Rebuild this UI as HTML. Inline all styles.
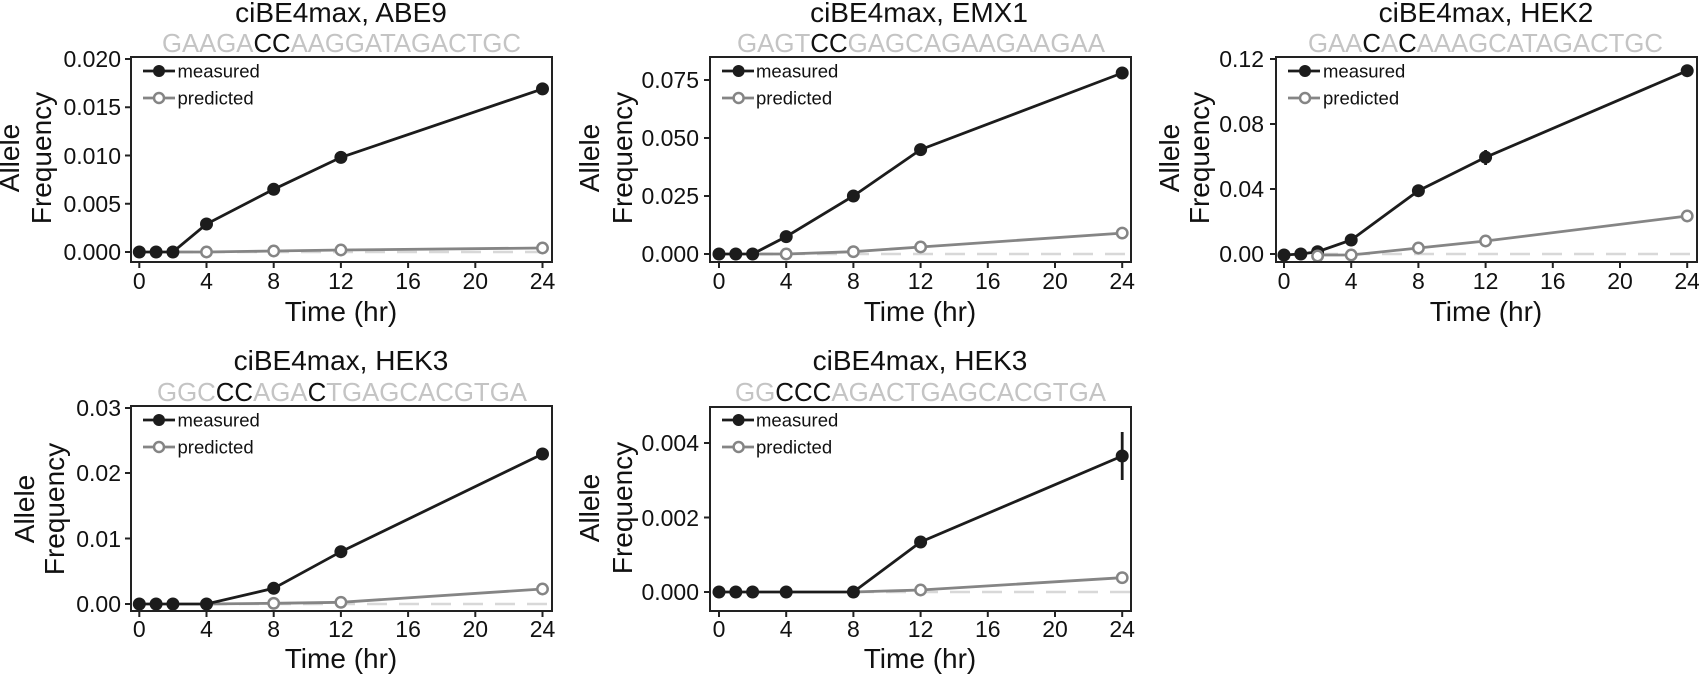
<!DOCTYPE html>
<html><head><meta charset="utf-8"><style>
html,body{margin:0;padding:0;background:#fff;}
svg{display:block;font-family:"Liberation Sans",Arial,sans-serif;}
.ax{fill:none;stroke:#222;stroke-width:2;}
.tk{stroke:#222;stroke-width:2;}
.tl{font-size:23px;fill:#111;}
.ti{font-size:28px;fill:#111;text-anchor:middle;}
.sq{font-size:26px;fill:#c4c4c4;}
.sq tspan.b{fill:#111;}
.lg{font-size:18.5px;fill:#111;}
.al{font-size:28px;fill:#111;text-anchor:middle;}
.m{stroke:#1c1c1c;stroke-width:2.8;fill:none;}
.p{stroke:#858585;stroke-width:2.8;fill:none;}
.d{stroke:#d8d8d8;stroke-width:2.5;stroke-dasharray:20 12;fill:none;}
.mf{fill:#1c1c1c;}
.po{fill:#fff;stroke:#858585;stroke-width:2.5;}
</style></head><body>
<svg width="1699" height="675" viewBox="0 0 1699 675" xmlns="http://www.w3.org/2000/svg">

<!-- ============ PANEL 1 ============ -->
<text class="ti" x="341" y="22">ciBE4max, ABE9</text>
<text class="sq" x="162" y="52" textLength="359" lengthAdjust="spacingAndGlyphs">GAAGA<tspan class="b">CC</tspan>AAGGATAGACTGC</text>
<line class="d" x1="173" y1="252" x2="551" y2="252"/>
<polyline class="p" points="172.9,252 206.5,252 273.7,251 340.9,250 542.5,248"/>
<polyline class="m" points="139.3,252 156.1,252 172.9,252 206.5,224 273.7,189.3 340.9,157.4 542.5,88.9"/>
<line class="m" x1="542.5" y1="84" x2="542.5" y2="94"/>
<g class="mf"><circle cx="139.3" cy="252" r="6.5"/><circle cx="156.1" cy="252" r="6.5"/><circle cx="172.9" cy="252" r="6.5"/><circle cx="206.5" cy="224" r="6.5"/><circle cx="273.7" cy="189.3" r="6.5"/><circle cx="340.9" cy="157.4" r="6.5"/><circle cx="542.5" cy="88.9" r="6.5"/></g>
<g class="po"><circle cx="206.5" cy="252" r="5.2"/><circle cx="273.7" cy="251" r="5.2"/><circle cx="340.9" cy="250" r="5.2"/><circle cx="542.5" cy="248" r="5.2"/></g>
<rect class="ax" x="131" y="57" width="421" height="205"/>
<g class="tk"><line x1="125" y1="252" x2="131" y2="252"/><line x1="125" y1="203.75" x2="131" y2="203.75"/><line x1="125" y1="155.5" x2="131" y2="155.5"/><line x1="125" y1="107.25" x2="131" y2="107.25"/><line x1="125" y1="59" x2="131" y2="59"/>
<line x1="139.3" y1="262" x2="139.3" y2="268"/><line x1="206.5" y1="262" x2="206.5" y2="268"/><line x1="273.7" y1="262" x2="273.7" y2="268"/><line x1="340.9" y1="262" x2="340.9" y2="268"/><line x1="408.1" y1="262" x2="408.1" y2="268"/><line x1="475.3" y1="262" x2="475.3" y2="268"/><line x1="542.5" y1="262" x2="542.5" y2="268"/></g>
<g class="tl" text-anchor="end"><text x="121" y="260">0.000</text><text x="121" y="212">0.005</text><text x="121" y="164">0.010</text><text x="121" y="115">0.015</text><text x="121" y="67">0.020</text></g>
<g class="tl" text-anchor="middle"><text x="139.3" y="289">0</text><text x="206.5" y="289">4</text><text x="273.7" y="289">8</text><text x="340.9" y="289">12</text><text x="408.1" y="289">16</text><text x="475.3" y="289">20</text><text x="542.5" y="289">24</text></g>
<text class="al" x="341" y="321">Time (hr)</text>
<text class="al" transform="translate(19,158) rotate(-90)">Allele</text>
<text class="al" transform="translate(51,158) rotate(-90)">Frequency</text>
<line class="m" x1="143" y1="71" x2="175" y2="71"/><circle class="mf" cx="159" cy="71" r="6"/>
<line class="p" x1="143" y1="98" x2="175" y2="98"/><circle class="po" cx="159" cy="98" r="5"/>
<text class="lg" x="177.5" y="77.5">measured</text><text class="lg" x="177.5" y="104.5">predicted</text>

<!-- ============ PANEL 2 ============ -->
<text class="ti" x="919" y="22">ciBE4max, EMX1</text>
<text class="sq" x="737" y="52" textLength="368" lengthAdjust="spacingAndGlyphs">GAGT<tspan class="b">CC</tspan>GAGCAGAAGAAGAA</text>
<line class="d" x1="753" y1="254" x2="1130" y2="254"/>
<polyline class="p" points="752.6,254 786.2,254 853.4,251.7 920.6,247 1122.2,233.1"/>
<polyline class="m" points="719,254 735.8,254 752.6,254 786.2,236.6 853.4,196 920.6,149.6 1122.2,73"/>
<g class="mf"><circle cx="719" cy="254" r="6.5"/><circle cx="735.8" cy="254" r="6.5"/><circle cx="752.6" cy="254" r="6.5"/><circle cx="786.2" cy="236.6" r="6.5"/><circle cx="853.4" cy="196" r="6.5"/><circle cx="920.6" cy="149.6" r="6.5"/><circle cx="1122.2" cy="73" r="6.5"/></g>
<g class="po"><circle cx="786.2" cy="254" r="5.2"/><circle cx="853.4" cy="251.7" r="5.2"/><circle cx="920.6" cy="247" r="5.2"/><circle cx="1122.2" cy="233.1" r="5.2"/></g>
<rect class="ax" x="710" y="57" width="421" height="205"/>
<g class="tk"><line x1="704" y1="254" x2="710" y2="254"/><line x1="704" y1="196" x2="710" y2="196"/><line x1="704" y1="138" x2="710" y2="138"/><line x1="704" y1="80" x2="710" y2="80"/>
<line x1="719" y1="262" x2="719" y2="268"/><line x1="786.2" y1="262" x2="786.2" y2="268"/><line x1="853.4" y1="262" x2="853.4" y2="268"/><line x1="920.6" y1="262" x2="920.6" y2="268"/><line x1="987.8" y1="262" x2="987.8" y2="268"/><line x1="1055" y1="262" x2="1055" y2="268"/><line x1="1122.2" y1="262" x2="1122.2" y2="268"/></g>
<g class="tl" text-anchor="end"><text x="699" y="262">0.000</text><text x="699" y="204">0.025</text><text x="699" y="146">0.050</text><text x="699" y="88">0.075</text></g>
<g class="tl" text-anchor="middle"><text x="719" y="289">0</text><text x="786.2" y="289">4</text><text x="853.4" y="289">8</text><text x="920.6" y="289">12</text><text x="987.8" y="289">16</text><text x="1055" y="289">20</text><text x="1122.2" y="289">24</text></g>
<text class="al" x="920" y="321">Time (hr)</text>
<text class="al" transform="translate(599,158) rotate(-90)">Allele</text>
<text class="al" transform="translate(632,158) rotate(-90)">Frequency</text>
<line class="m" x1="722" y1="71" x2="754" y2="71"/><circle class="mf" cx="738.6" cy="71" r="6"/>
<line class="p" x1="722" y1="98" x2="754" y2="98"/><circle class="po" cx="738.6" cy="98" r="5"/>
<text class="lg" x="756" y="77.5">measured</text><text class="lg" x="756" y="104.5">predicted</text>

<!-- ============ PANEL 3 ============ -->
<text class="ti" x="1486" y="22">ciBE4max, HEK2</text>
<text class="sq" x="1308" y="52" textLength="355" lengthAdjust="spacingAndGlyphs">GAA<tspan class="b">C</tspan>A<tspan class="b">C</tspan>AAAGCATAGACTGC</text>
<line class="d" x1="1318" y1="254" x2="1696" y2="254"/>
<polyline class="p" points="1317.6,255 1351.2,255 1418.4,248 1485.6,241 1687.2,216"/>
<polyline class="m" points="1284,255 1300.8,254 1317.6,251.7 1351.2,240 1418.4,190.7 1485.6,157.3 1687.2,70.7"/>
<line class="m" x1="1485.6" y1="150" x2="1485.6" y2="165"/>
<g class="mf"><circle cx="1284" cy="255" r="6.5"/><circle cx="1300.8" cy="254" r="6.5"/><circle cx="1317.6" cy="251.7" r="6.5"/><circle cx="1351.2" cy="240" r="6.5"/><circle cx="1418.4" cy="190.7" r="6.5"/><circle cx="1485.6" cy="157.3" r="6.5"/><circle cx="1687.2" cy="70.7" r="6.5"/></g>
<g class="po"><circle cx="1317.6" cy="256" r="5.2"/><circle cx="1351.2" cy="255" r="5.2"/><circle cx="1418.4" cy="248" r="5.2"/><circle cx="1485.6" cy="241" r="5.2"/><circle cx="1687.2" cy="216" r="5.2"/></g>
<rect class="ax" x="1276" y="57" width="421" height="205"/>
<g class="tk"><line x1="1270" y1="254" x2="1276" y2="254"/><line x1="1270" y1="189" x2="1276" y2="189"/><line x1="1270" y1="124" x2="1276" y2="124"/><line x1="1270" y1="59" x2="1276" y2="59"/>
<line x1="1284" y1="262" x2="1284" y2="268"/><line x1="1351.2" y1="262" x2="1351.2" y2="268"/><line x1="1418.4" y1="262" x2="1418.4" y2="268"/><line x1="1485.6" y1="262" x2="1485.6" y2="268"/><line x1="1552.8" y1="262" x2="1552.8" y2="268"/><line x1="1620" y1="262" x2="1620" y2="268"/><line x1="1687.2" y1="262" x2="1687.2" y2="268"/></g>
<g class="tl" text-anchor="end"><text x="1264" y="262">0.00</text><text x="1264" y="197">0.04</text><text x="1264" y="132">0.08</text><text x="1264" y="67">0.12</text></g>
<g class="tl" text-anchor="middle"><text x="1284" y="289">0</text><text x="1351.2" y="289">4</text><text x="1418.4" y="289">8</text><text x="1485.6" y="289">12</text><text x="1552.8" y="289">16</text><text x="1620" y="289">20</text><text x="1687.2" y="289">24</text></g>
<text class="al" x="1486" y="321">Time (hr)</text>
<text class="al" transform="translate(1179,158) rotate(-90)">Allele</text>
<text class="al" transform="translate(1209,158) rotate(-90)">Frequency</text>
<line class="m" x1="1288" y1="71" x2="1320" y2="71"/><circle class="mf" cx="1305" cy="71" r="6"/>
<line class="p" x1="1288" y1="98" x2="1320" y2="98"/><circle class="po" cx="1305" cy="98" r="5"/>
<text class="lg" x="1323" y="77.5">measured</text><text class="lg" x="1323" y="104.5">predicted</text>

<!-- ============ PANEL 4 ============ -->
<text class="ti" x="341" y="370">ciBE4max, HEK3</text>
<text class="sq" x="157" y="401" textLength="370" lengthAdjust="spacingAndGlyphs">GGC<tspan class="b">CC</tspan>AGA<tspan class="b">C</tspan>TGAGCACGTGA</text>
<line class="d" x1="207" y1="604" x2="551" y2="604"/>
<polyline class="p" points="206.5,604 273.7,603.3 340.9,602.3 542.5,589"/>
<polyline class="m" points="139.3,604 156.1,604 172.9,604 206.5,604 273.7,588.3 340.9,551.7 542.5,454"/>
<g class="mf"><circle cx="139.3" cy="604" r="6.5"/><circle cx="156.1" cy="604" r="6.5"/><circle cx="172.9" cy="604" r="6.5"/><circle cx="206.5" cy="604" r="6.5"/><circle cx="273.7" cy="588.3" r="6.5"/><circle cx="340.9" cy="551.7" r="6.5"/><circle cx="542.5" cy="454" r="6.5"/></g>
<g class="po"><circle cx="273.7" cy="603.3" r="5.2"/><circle cx="340.9" cy="602.3" r="5.2"/><circle cx="542.5" cy="589" r="5.2"/></g>
<rect class="ax" x="131" y="406" width="421" height="205"/>
<g class="tk"><line x1="125" y1="604" x2="131" y2="604"/><line x1="125" y1="538.5" x2="131" y2="538.5"/><line x1="125" y1="473" x2="131" y2="473"/><line x1="125" y1="408" x2="131" y2="408"/>
<line x1="139.3" y1="611" x2="139.3" y2="617"/><line x1="206.5" y1="611" x2="206.5" y2="617"/><line x1="273.7" y1="611" x2="273.7" y2="617"/><line x1="340.9" y1="611" x2="340.9" y2="617"/><line x1="408.1" y1="611" x2="408.1" y2="617"/><line x1="475.3" y1="611" x2="475.3" y2="617"/><line x1="542.5" y1="611" x2="542.5" y2="617"/></g>
<g class="tl" text-anchor="end"><text x="121" y="612">0.00</text><text x="121" y="547">0.01</text><text x="121" y="481">0.02</text><text x="121" y="416">0.03</text></g>
<g class="tl" text-anchor="middle"><text x="139.3" y="637">0</text><text x="206.5" y="637">4</text><text x="273.7" y="637">8</text><text x="340.9" y="637">12</text><text x="408.1" y="637">16</text><text x="475.3" y="637">20</text><text x="542.5" y="637">24</text></g>
<text class="al" x="341" y="668">Time (hr)</text>
<text class="al" transform="translate(34,509) rotate(-90)">Allele</text>
<text class="al" transform="translate(64,509) rotate(-90)">Frequency</text>
<line class="m" x1="143" y1="420" x2="175" y2="420"/><circle class="mf" cx="159" cy="420" r="6"/>
<line class="p" x1="143" y1="447" x2="175" y2="447"/><circle class="po" cx="159" cy="447" r="5"/>
<text class="lg" x="177.5" y="426.5">measured</text><text class="lg" x="177.5" y="453.5">predicted</text>

<!-- ============ PANEL 5 ============ -->
<text class="ti" x="920" y="370">ciBE4max, HEK3</text>
<text class="sq" x="735" y="401" textLength="371" lengthAdjust="spacingAndGlyphs">GG<tspan class="b">CCC</tspan>AGACTGAGCACGTGA</text>
<line class="d" x1="854" y1="592" x2="1130" y2="592"/>
<polyline class="p" points="853.4,592 920.6,590 1122.2,577.7"/>
<polyline class="m" points="719,592 735.8,592 752.6,592 786.2,592 853.4,592 920.6,542 1122.2,456"/>
<line class="m" x1="1122.2" y1="432" x2="1122.2" y2="480"/>
<g class="mf"><circle cx="719" cy="592" r="6.5"/><circle cx="735.8" cy="592" r="6.5"/><circle cx="752.6" cy="592" r="6.5"/><circle cx="786.2" cy="592" r="6.5"/><circle cx="853.4" cy="592" r="6.5"/><circle cx="920.6" cy="542" r="6.5"/><circle cx="1122.2" cy="456" r="6.5"/></g>
<g class="po"><circle cx="920.6" cy="590" r="5.2"/><circle cx="1122.2" cy="577.7" r="5.2"/></g>
<rect class="ax" x="710" y="407" width="421" height="204"/>
<g class="tk"><line x1="704" y1="592" x2="710" y2="592"/><line x1="704" y1="517.5" x2="710" y2="517.5"/><line x1="704" y1="443" x2="710" y2="443"/>
<line x1="719" y1="611" x2="719" y2="617"/><line x1="786.2" y1="611" x2="786.2" y2="617"/><line x1="853.4" y1="611" x2="853.4" y2="617"/><line x1="920.6" y1="611" x2="920.6" y2="617"/><line x1="987.8" y1="611" x2="987.8" y2="617"/><line x1="1055" y1="611" x2="1055" y2="617"/><line x1="1122.2" y1="611" x2="1122.2" y2="617"/></g>
<g class="tl" text-anchor="end"><text x="699" y="600">0.000</text><text x="699" y="526">0.002</text><text x="699" y="451">0.004</text></g>
<g class="tl" text-anchor="middle"><text x="719" y="637">0</text><text x="786.2" y="637">4</text><text x="853.4" y="637">8</text><text x="920.6" y="637">12</text><text x="987.8" y="637">16</text><text x="1055" y="637">20</text><text x="1122.2" y="637">24</text></g>
<text class="al" x="920" y="668">Time (hr)</text>
<text class="al" transform="translate(599,508) rotate(-90)">Allele</text>
<text class="al" transform="translate(632,508) rotate(-90)">Frequency</text>
<line class="m" x1="722" y1="420" x2="754" y2="420"/><circle class="mf" cx="738.6" cy="420" r="6"/>
<line class="p" x1="722" y1="447" x2="754" y2="447"/><circle class="po" cx="738.6" cy="447" r="5"/>
<text class="lg" x="756" y="426.5">measured</text><text class="lg" x="756" y="453.5">predicted</text>
</svg>
</body></html>
